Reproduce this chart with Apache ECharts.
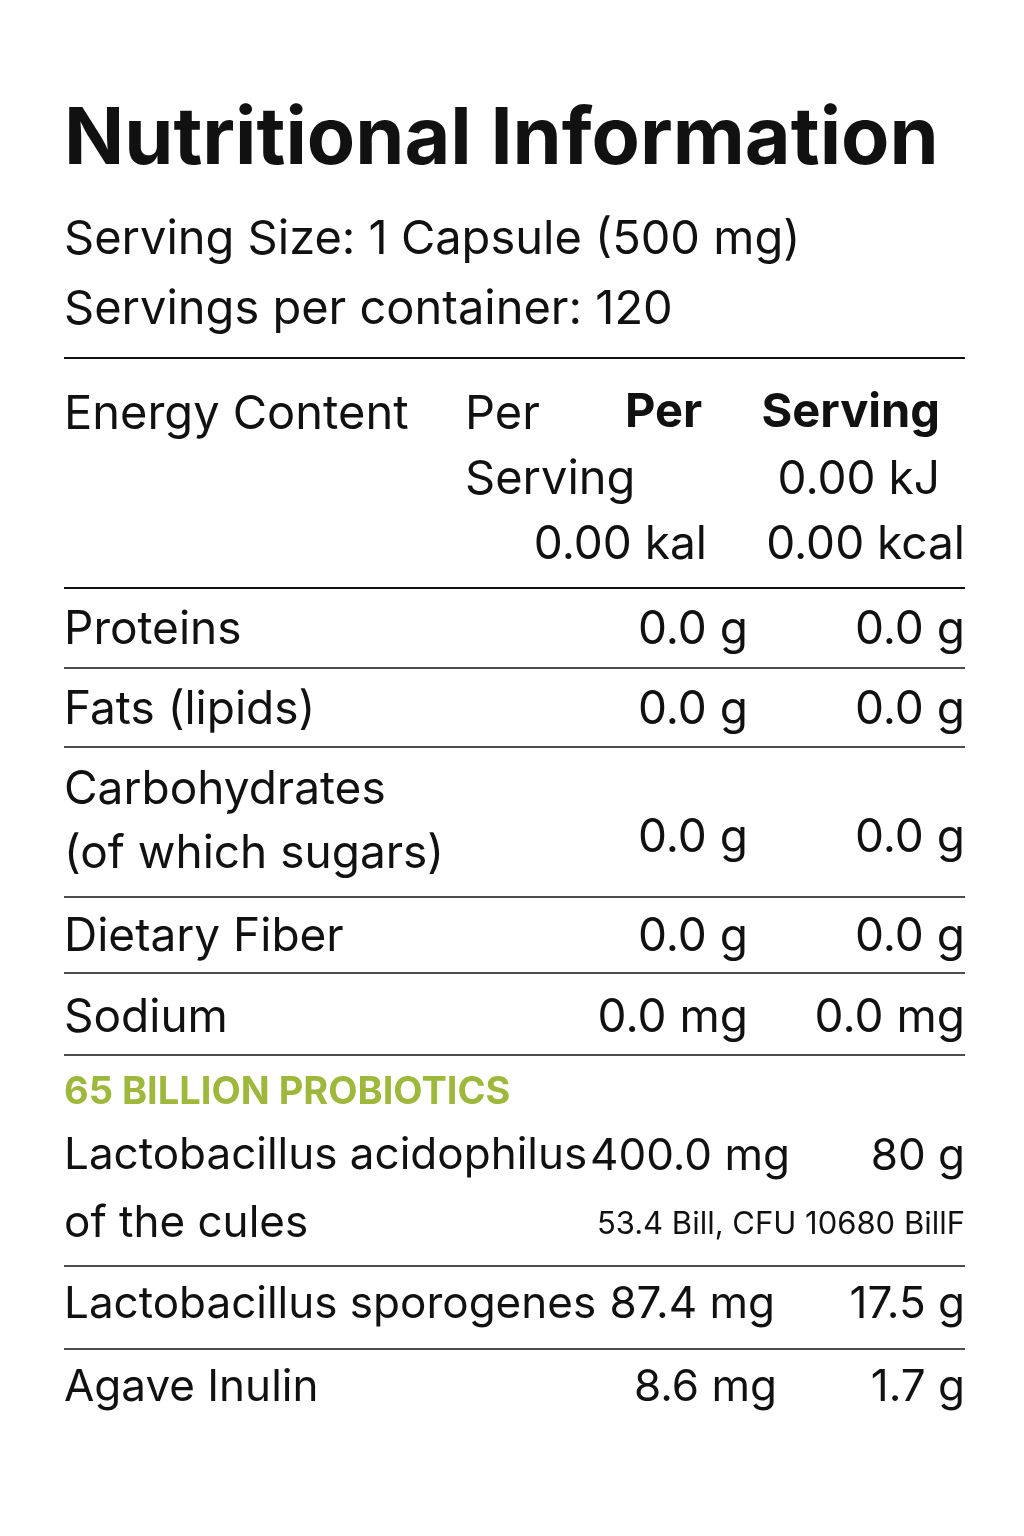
<!DOCTYPE html>
<html><head><meta charset="utf-8">
<script src="https://cdn.jsdelivr.net/npm/echarts@6/dist/echarts.min.js"></script>
<style>html,body{margin:0;background:#fff}#c{width:1024px;height:1536px}</style>
</head><body><div id="c"></div>
<script>
const title = "Nutritional Information";
const servingLines = ["Serving Size: 1 Capsule (500 mg)", "Servings per container: 120"];
const nutrients = ["Proteins", "Fats (lipids)", "Carbohydrates\n(of which sugars)", "Dietary Fiber", "Sodium"];
const perServing = ["0.0 g", "0.0 g", "0.0 g", "0.0 g", "0.0 mg"];
const perServing2 = ["0.0 g", "0.0 g", "0.0 g", "0.0 g", "0.0 mg"];
const probioticsHeader = "65 BILLION PROBIOTICS";
const probiotics = ["Lactobacillus acidophilus\nof the cules", "Lactobacillus sporogenes", "Agave Inulin"];
const probioticsA = ["400.0 mg", "87.4 mg", "8.6 mg"];
const probioticsB = ["80 g", "17.5 g", "1.7 g"];
const cfuNote = "53.4 Bill, CFU 10680 BillF";

const F = "Inter, 'Noto Sans', sans-serif";
const C = "#111";
const els = [];
function t(x, y, s, opt) {
  opt = opt || {};
  els.push({type:'text', x, y, style:{text:s, fill:opt.fill||C, font:(opt.w||'normal')+' '+(opt.size||46)+'px '+F,
    textAlign:opt.align||'left', textVerticalAlign:'middle', lineHeight:opt.lh||64}});
}
function line(y, w) {
  els.push({type:'line', shape:{x1:64,y1:y,x2:965,y2:y}, style:{stroke:C, lineWidth:w||2}});
}
t(64, 140, title, {w:'bold', size:79});
t(64, 240, servingLines[0], {size:47});
t(64, 310, servingLines[1], {size:47});
line(358);
t(64, 415, "Energy Content", {size:47});
t(465, 415, "Per", {size:47});
t(625, 413, "Per", {w:'bold', size:47});
t(940, 413, "Serving", {w:'bold', align:'right', size:47});
t(465, 480, "Serving", {size:47});
t(940, 480, "0.00 kJ", {align:'right'});
t(707, 545, "0.00 kal", {align:'right'});
t(965, 545, "0.00 kcal", {align:'right'});
line(588);
const rowY = [630, 710, 822, 937, 1018];
const lineY = [668, 747, 897, 973, 1055];
nutrients.forEach((n, i) => {
  t(64, rowY[i], n, {size:46});
  const vy = i === 2 ? 838 : rowY[i];
  t(748, vy, perServing[i], {align:'right'});
  t(965, vy, perServing2[i], {align:'right'});
  line(lineY[i], 1.5);
});
t(64, 1093, probioticsHeader, {w:'bold', size:38, fill:'#9db83a'});
const pY = [1190, 1305, 1388];
const pAx = [790, 775, 777];
const pVy = [1157, 1305, 1388];
probiotics.forEach((p, i) => {
  t(64, pY[i], p, {lh:68, size:44});
  t(pAx[i], pVy[i], probioticsA[i], {align:'right', size:44});
  t(965, pVy[i], probioticsB[i], {align:'right', size:44});
});
t(965, 1225, cfuNote, {size:31, align:'right'});
line(1266, 1.5);
line(1349, 1.5);

const chart = echarts.init(document.getElementById('c'));
chart.setOption({backgroundColor:'#fff', graphic:{elements:els}});
</script></body></html>
